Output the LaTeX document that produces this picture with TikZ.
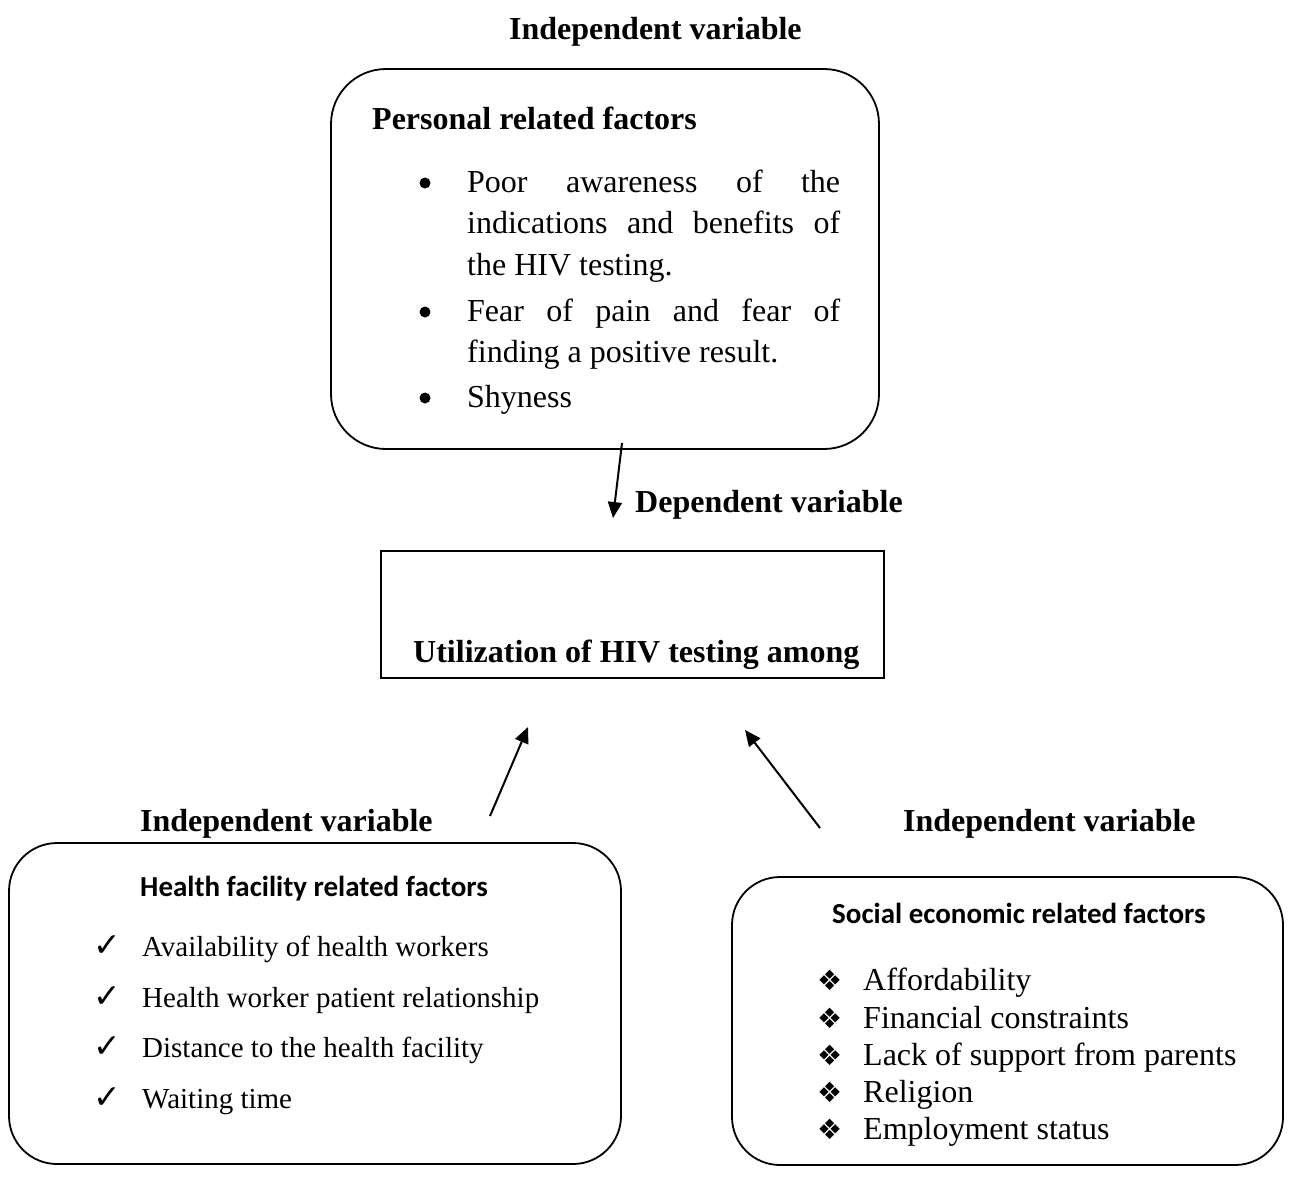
\documentclass[tikz,border=0pt]{standalone}
\usepackage{fontspec}
\setmainfont{Liberation Serif}
\newfontfamily\calibrifont{Carlito}
\newfontfamily\dejavufont{DejaVu Sans}
\usetikzlibrary{arrows.meta,positioning}

\begin{document}
\begin{tikzpicture}[x=1pt, y=-1pt,
    roundbox/.style={draw, line width=1.8pt, inner sep=0pt},
    plainbox/.style={draw, line width=1.2pt, inner sep=0pt},
    heading/.style={font=\fontsize{32}{38}\selectfont\bfseries, inner sep=0pt, anchor=base west},
    sanshead/.style={font=\calibrifont\fontsize{29}{34}\selectfont\bfseries, inner sep=0pt, anchor=base west},
    bigtext/.style={font=\fontsize{32}{38}\selectfont, inner sep=0pt, anchor=base west},
    smalltext/.style={font=\fontsize{29}{35}\selectfont, inner sep=0pt, anchor=base west},
    bulletdot/.style={circle, fill=black, inner sep=0pt, minimum size=11pt},
    arrow/.style={-{Triangle[length=16pt,width=14pt]}, line width=2pt}
]
\useasboundingbox (0,0) rectangle (1293,1176);

% boxes
\node[roundbox, rounded corners=55pt, minimum width=548pt, minimum height=380pt] (personal) at (605,259) {};
\node[plainbox, minimum width=503pt, minimum height=127pt] (outcome) at (632.5,614.5) {};
\node[roundbox, rounded corners=48pt, minimum width=612pt, minimum height=321pt] (health) at (315,1003.5) {};
\node[roundbox, rounded corners=48pt, minimum width=551pt, minimum height=288pt] (social) at (1007.5,1021) {};

% variable labels
\node[heading] (ivtop) at (509,39) {Independent variable};
\node[heading] (dv) at (635,512) {Dependent variable};
\node[heading] (ivleft) at (140,831) {Independent variable};
\node[heading] (ivright) at (903,831) {Independent variable};
\node[heading] (util) at (413,662) {Utilization of HIV testing among};

% personal related factors
\node[heading] (pershead) at (372,129) {Personal related factors};
\node[bulletdot] (pb1) at (425,183) {};
\node[bulletdot] (pb2) at (425,312) {};
\node[bulletdot] (pb3) at (425,398) {};
\node[bigtext] (pl1) at (467,192) {\makebox[373pt][s]{Poor awareness of the}};
\node[bigtext] (pl2) at (467,233) {\makebox[373pt][s]{indications and benefits of}};
\node[bigtext] (pl3) at (467,275) {the HIV testing.};
\node[bigtext] (pl4) at (467,321) {\makebox[373pt][s]{Fear of pain and fear of}};
\node[bigtext] (pl5) at (467,362) {finding a positive result.};
\node[bigtext] (pl6) at (467,407) {Shyness};

% health facility related factors
\node[sanshead] (hfhead) at (140,896) {Health facility related factors};
\foreach \i/\y/\txt in {1/956/Availability of health workers,
                        2/1007/Health worker patient relationship,
                        3/1057/Distance to the health facility,
                        4/1108/Waiting time}{
  \node[smalltext, font=\dejavufont\fontsize{33}{36}\selectfont] (hfc\i) at (93,\y) {✓};
  \node[smalltext] (hf\i) at (142,\y) {\txt};
}

% social economic related factors
\node[sanshead] (sehead) at (832,923) {Social economic related factors};
\foreach \i/\y/\txt in {1/990/Affordability,
                        2/1028/Financial constraints,
                        3/1065/Lack of support from parents,
                        4/1102/Religion,
                        5/1139/Employment status}{
  \node[bigtext, font=\dejavufont\fontsize{28}{32}\selectfont] (sed\i) at (817,\y) {❖};
  \node[bigtext] (se\i) at (863,\y) {\txt};
}

% arrows
\coordinate (a1s) at (622,443);
\coordinate (a1e) at (613,518);
\coordinate (a2s) at (490,816);
\coordinate (a2e) at (528,727);
\coordinate (a3s) at (820,828);
\coordinate (a3e) at (745,730);
\draw[arrow] (a1s) -- (a1e);
\draw[arrow] (a2s) -- (a2e);
\draw[arrow] (a3s) -- (a3e);
\end{tikzpicture}
\end{document}
